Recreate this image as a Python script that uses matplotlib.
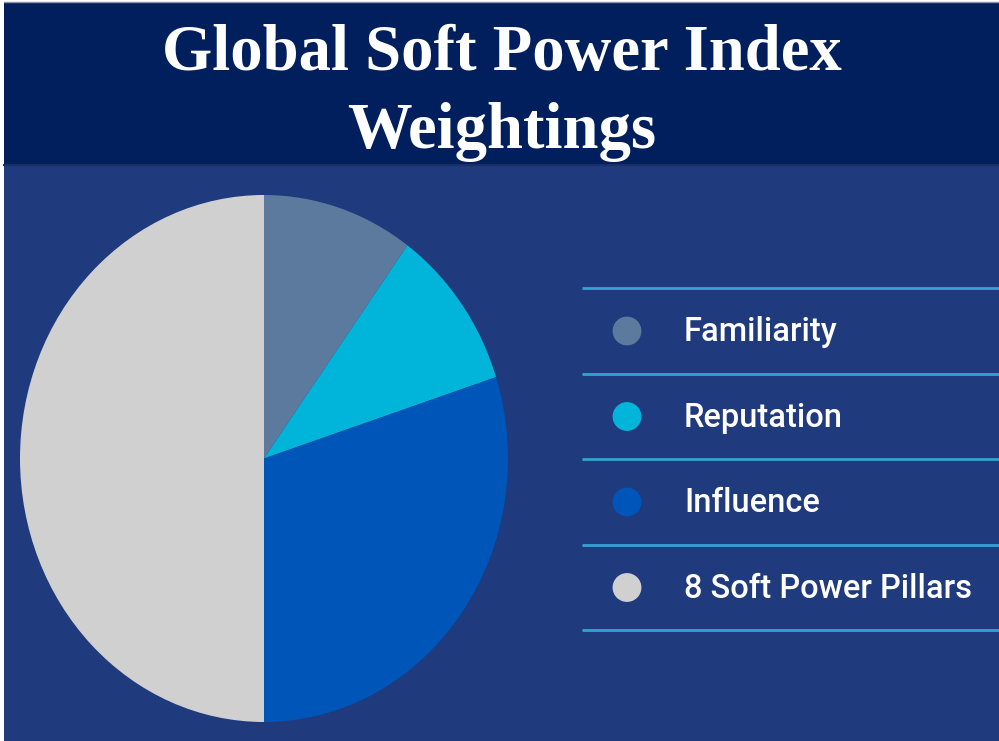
import matplotlib
matplotlib.use("Agg")
import matplotlib.pyplot as plt
from matplotlib.patches import Rectangle

# ---- data ----
title_lines = ["Global Soft Power Index", "Weightings"]
categories = ["Familiarity", "Reputation", "Influence", "8 Soft Power Pillars"]
weights = [10, 10, 30, 50]
colors = ["#5b7a9e", "#00b4da", "#0055b8", "#d0d0d0"]

W, H = 999, 741
fig = plt.figure(figsize=(W / 100, H / 100), dpi=100)
fig.patch.set_facecolor("white")

# background axes in pixel coordinates
bg = fig.add_axes([0, 0, 1, 1])
bg.set_xlim(0, W)
bg.set_ylim(H, 0)
bg.axis("off")
bg.add_patch(Rectangle((4, 3), W - 4, 161, facecolor="#001f5c", edgecolor="none"))
bg.add_patch(Rectangle((4, 164), W - 4, H - 164, facecolor="#1f3a7d", edgecolor="none"))
bg.plot([4, W], [164.5, 164.5], color="#1a2f66", lw=1.5)
bg.plot([4, W], [2, 2], color="#8a93a8", lw=1)

for line, yb in zip(title_lines, [70, 148]):
    bg.text(502, yb, line, ha="center", va="baseline",
            fontsize=46.5, fontweight="bold", family="Liberation Serif", color="white")

# legend rows
row_lines = [288, 374, 459, 545, 630]
for y in row_lines:
    bg.plot([582, W], [y, y], color="#35a2d4", lw=2, solid_capstyle="butt")
for i, (cat, col) in enumerate(zip(categories, colors)):
    yc = (row_lines[i] + row_lines[i + 1]) / 2
    bg.scatter([627], [yc], s=28 ** 2 * 0.55, color=col, edgecolors="none")
    bg.text(684, yc + 1, cat, ha="left", va="center", fontsize=23.5,
            family="Roboto", fontweight="medium", color="white")

# pie
pl, pr, pt, pb = 20, 508, 195, 722
ax = fig.add_axes([pl / W, (H - pb) / H, (pr - pl) / W, (pb - pt) / H])
ax.pie(weights, colors=colors, startangle=90, counterclock=False,
       wedgeprops=dict(linewidth=0))
ax.set_aspect("auto")
ax.set_xlim(-1, 1)
ax.set_ylim(-1, 1)
ax.axis("off")

fig.savefig("out.png", dpi=100, facecolor=fig.get_facecolor())
